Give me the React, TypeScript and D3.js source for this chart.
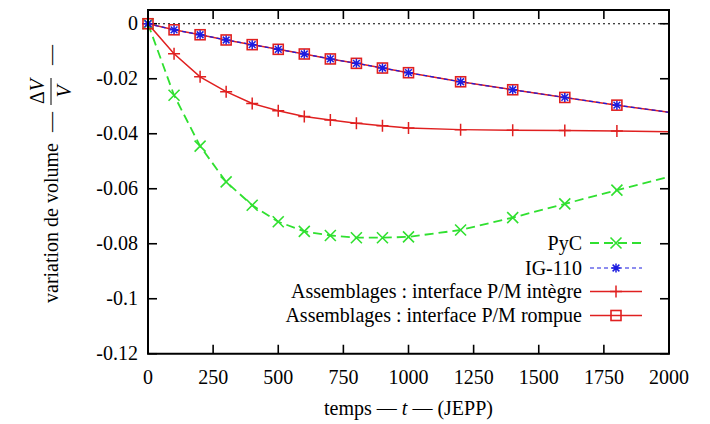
import React from "react";
import * as d3 from "d3";

const times = [0, 100, 200, 300, 400, 500, 600, 700, 800, 900, 1000, 1200, 1400, 1600, 1800, 2000];
const pyc = [0, -0.026, -0.0445, -0.0575, -0.066, -0.072, -0.0755, -0.077, -0.0778, -0.0778, -0.0775, -0.075, -0.0705, -0.0655, -0.0605, -0.0556];
const ig110 = [0, -0.0022, -0.004, -0.0059, -0.0076, -0.0093, -0.011, -0.0128, -0.0144, -0.0161, -0.0178, -0.0211, -0.024, -0.0268, -0.0296, -0.0322];
const integre = [0, -0.0109, -0.0193, -0.0247, -0.029, -0.0316, -0.0337, -0.035, -0.0362, -0.0371, -0.0379, -0.0385, -0.0387, -0.0388, -0.039, -0.0393];
const rompue = [0, -0.0022, -0.004, -0.0059, -0.0076, -0.0093, -0.011, -0.0128, -0.0144, -0.0161, -0.0178, -0.0211, -0.024, -0.0268, -0.0296, -0.0322];
const xTicks = [0, 250, 500, 750, 1000, 1250, 1500, 1750, 2000];
const yTicks = [0, -0.02, -0.04, -0.06, -0.08, -0.1, -0.12];
const legendLabels = ["PyC", "IG-110", "Assemblages : interface P/M intègre", "Assemblages : interface P/M rompue"];

const W = 710, H = 424;
const L = 148, R = 669, T = 10, B = 353.75;
const GREEN = "#30e030", BLUE = "#1c1ce0", RED = "#e02020";
const FONT = "Liberation Serif";
const FS = 20;
const tstyle = { fontFamily: FONT, fontSize: FS };

type Kind = "x" | "star" | "plus" | "square";

function Marker({ kind, x, y, color }: { kind: Kind; x: number; y: number; color: string }) {
  const s = 5.5;
  if (kind === "x")
    return <path d={`M${x - s},${y - s}L${x + s},${y + s}M${x - s},${y + s}L${x + s},${y - s}`} stroke={color} strokeWidth={1.6} fill="none" />;
  if (kind === "plus")
    return <path d={`M${x - s - 0.5},${y}L${x + s + 0.5},${y}M${x},${y - s - 0.5}L${x},${y + s + 0.5}`} stroke={color} strokeWidth={1.5} fill="none" />;
  if (kind === "square")
    return <rect x={x - 5} y={y - 5} width={10} height={10} stroke={color} strokeWidth={1.6} fill="none" />;
  const a = 4.5;
  return (
    <path
      d={`M${x - a},${y}L${x + a},${y}M${x},${y - a}L${x},${y + a}M${x - a * 0.75},${y - a * 0.75}L${x + a * 0.75},${y + a * 0.75}M${x - a * 0.75},${y + a * 0.75}L${x + a * 0.75},${y - a * 0.75}`}
      stroke={color}
      strokeWidth={1.5}
      fill="none"
    />
  );
}

export default function App() {
  const x = d3.scaleLinear().domain([0, 2000]).range([L, R]);
  const y = d3.scaleLinear().domain([-0.12, 0.005]).range([B, T]);

  const series: { vals: number[]; color: string; dash?: string; width: number; kind: Kind }[] = [
    { vals: pyc, color: GREEN, dash: "9,5", width: 1.8, kind: "x" },
    { vals: integre, color: RED, width: 1.5, kind: "plus" },
    { vals: rompue, color: RED, width: 1.5, kind: "square" },
    { vals: ig110, color: BLUE, dash: "4,3", width: 1.2, kind: "star" },
  ];
  const line = d3
    .line<number>()
    .x((_, i) => x(times[i]))
    .y((d) => y(d));

  const legendOrder = [series[0], series[3], series[1], series[2]];
  const legendY = [243, 268, 291.5, 315.5];
  const lx1 = 590, lx2 = 642, ltext = 582;

  return (
    <svg width={W} height={H} style={{ position: "absolute", left: 0, top: 0, background: "#fff", fontFamily: FONT }}>
      <defs>
        <clipPath id="plot">
          <rect x={L} y={T} width={R - L} height={B - T} />
        </clipPath>
      </defs>
      <line x1={L} x2={R} y1={y(0)} y2={y(0)} stroke="#000" strokeWidth={1} strokeDasharray="2,3" />
      {xTicks.map((t) => (
        <g key={"xt" + t}>
          <line x1={x(t)} x2={x(t)} y1={B} y2={B - 9} stroke="#000" strokeWidth={1.6} />
          <line x1={x(t)} x2={x(t)} y1={T} y2={T + 9} stroke="#000" strokeWidth={1.6} />
          <text x={x(t)} y={B + 30} textAnchor="middle" style={tstyle}>
            {t}
          </text>
        </g>
      ))}
      {yTicks.map((t) => (
        <g key={"yt" + t}>
          <line x1={L} x2={L + 9} y1={y(t)} y2={y(t)} stroke="#000" strokeWidth={1.6} />
          <line x1={R} x2={R - 9} y1={y(t)} y2={y(t)} stroke="#000" strokeWidth={1.6} />
          <text x={L - 10} y={y(t) + 6.5} textAnchor="end" style={tstyle}>
            {t === 0 ? "0" : String(t)}
          </text>
        </g>
      ))}
      <g clipPath="url(#plot)">
        {series.map((s, i) => (
          <path key={"l" + i} d={line(s.vals) || ""} fill="none" stroke={s.color} strokeWidth={s.width} strokeDasharray={s.dash} />
        ))}
      </g>
      {series.map((s, i) => (
        <g key={"m" + i}>
          {s.vals.map((v, j) => (times[j] < 2000 ? <Marker key={j} kind={s.kind} x={x(times[j])} y={y(v)} color={s.color} /> : null))}
        </g>
      ))}
      {legendOrder.map((s, i) => (
        <g key={"lg" + i}>
          <text x={ltext} y={legendY[i] + 6.5} textAnchor="end" style={tstyle}>
            {legendLabels[i]}
          </text>
          <line x1={lx1} x2={lx2} y1={legendY[i]} y2={legendY[i]} stroke={s.color} strokeWidth={s.width} strokeDasharray={s.dash} />
          <Marker kind={s.kind} x={(lx1 + lx2) / 2} y={legendY[i]} color={s.color} />
        </g>
      ))}
      <rect x={L} y={T} width={R - L} height={B - T} fill="none" stroke="#000" strokeWidth={2} />
      <text x={(L + R) / 2} y={415} textAnchor="middle" style={tstyle}>
        temps — <tspan fontStyle="italic">t</tspan> — (JEPP)
      </text>
      <g transform="rotate(-90)">
        <text x={-303} y={58} style={tstyle}>
          variation de volume
        </text>
        <text x={-132} y={58} style={tstyle}>
          —
        </text>
        <text x={-91.5} y={44} textAnchor="middle" style={tstyle}>
          Δ<tspan fontStyle="italic">V</tspan>
        </text>
        <line x1={-105} x2={-78} y1={51} y2={51} stroke="#000" strokeWidth={1} />
        <text x={-91.5} y={71} textAnchor="middle" fontStyle="italic" style={tstyle}>
          V
        </text>
        <text x={-65} y={58} style={tstyle}>
          —
        </text>
      </g>
    </svg>
  );
}
